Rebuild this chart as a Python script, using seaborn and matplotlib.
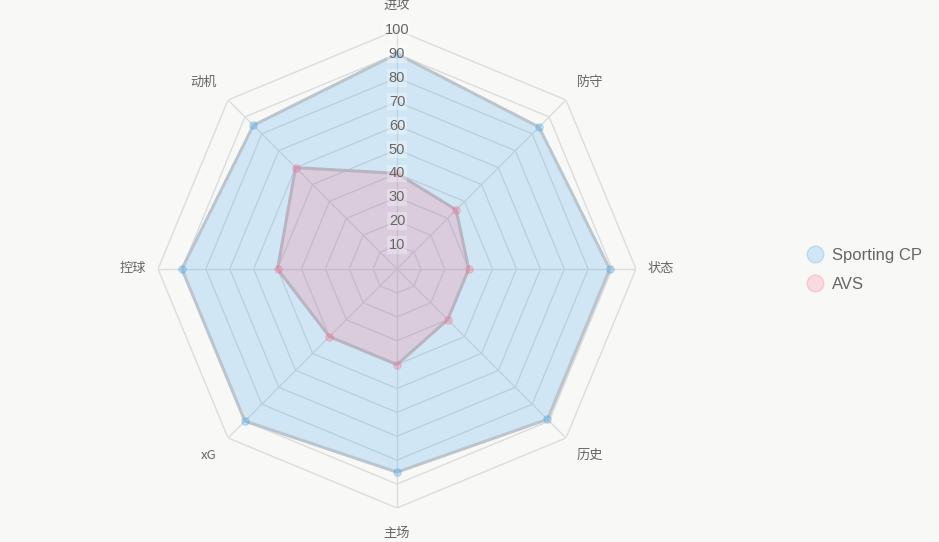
import numpy as np
import seaborn as sns
import matplotlib.pyplot as plt
from matplotlib.lines import Line2D

sns.set_theme(style="white")
plt.rcParams['font.family'] = ['Liberation Sans', 'Noto Sans CJK SC', 'DejaVu Sans']

# data
categories = ['进攻', '防守', '状态', '历史', '主场', 'xG', '控球', '动机']
sporting = [90, 84, 89, 89, 85, 90, 90, 85]
avs = [40, 35, 30, 30, 40, 40, 50, 60]
ticks = [10, 20, 30, 40, 50, 60, 70, 80, 90, 100]
teams = ['Sporting CP', 'AVS']

bg = '#f8f8f7'
fig = plt.figure(figsize=(9.39, 5.42), dpi=100, facecolor=bg)
ax = fig.add_axes([0.1683, 0.0627, 0.509, 0.882], projection='polar')
ax.set_facecolor('none')
ax.set_theta_zero_location('N')
ax.set_theta_direction(-1)
ax.set_ylim(0, 100)
ax.grid(False)
ax.spines['polar'].set_visible(False)
ax.set_xticks([])
ax.set_yticks([])

n = len(categories)
angles = np.linspace(0, 2 * np.pi, n, endpoint=False)
closed = np.append(angles, angles[0])

# polygon grid
for t in ticks:
    ax.plot(closed, [t] * (n + 1), color='#dcdcdc', lw=1, zorder=1)
for a in angles:
    ax.plot([a, a], [0, 100], color='#dcdcdc', lw=1, zorder=1)

# datasets
blue = (54/255, 162/255, 235/255)
pink = (255/255, 99/255, 132/255)
styles = [
    (sporting, blue + (0.2,), '#bcc5cc', blue + (0.28,)),
    (avs, pink + (0.2,), '#b9b4c2', pink + (0.28,)),
]
for vals, fill, edge, pt in styles:
    v = np.append(vals, vals[0])
    ax.fill(closed, v, color=fill, zorder=2)
    ax.plot(closed, v, color=edge, lw=2.2, zorder=3)
    ax.scatter(angles, vals, s=28, color=pt, edgecolor=pt, zorder=4)

# tick labels
for t in ticks:
    ax.text(0, t, str(t), ha='center', va='center', fontsize=10.5, color='#666666',
            zorder=5, bbox=dict(boxstyle='square,pad=0.12', fc=(1, 1, 1, 0.3), ec='none'))

# point labels: chart.js style alignment on the diagonals
for i, (a, c) in enumerate(zip(angles, categories)):
    if i % 2 == 0:
        r, ha, va = 110.5, 'center', 'center'
    else:
        r = 106.5
        ha = 'left' if np.sin(a) > 0 else 'right'
        va = 'bottom' if np.cos(a) > 0 else 'top'
    ax.text(a, r, c, ha=ha, va=va, fontsize=9.5, color='#666666', clip_on=False,
            family=['Noto Sans CJK SC', 'DejaVu Sans'])

handles = [
    Line2D([], [], marker='o', ls='none', markersize=12,
           markerfacecolor=blue + (0.2,), markeredgecolor=blue + (0.25,)),
    Line2D([], [], marker='o', ls='none', markersize=12,
           markerfacecolor=pink + (0.2,), markeredgecolor=pink + (0.25,)),
]
fig.legend(handles, teams, loc='center left', bbox_to_anchor=(0.859, 0.502), frameon=False,
           labelcolor='#666666', handlelength=1, handletextpad=0.55, labelspacing=0.85,
           borderpad=0, borderaxespad=0, prop={'family': ['Liberation Sans'], 'size': 12})

fig.savefig('out.png', dpi=100, facecolor=bg)
